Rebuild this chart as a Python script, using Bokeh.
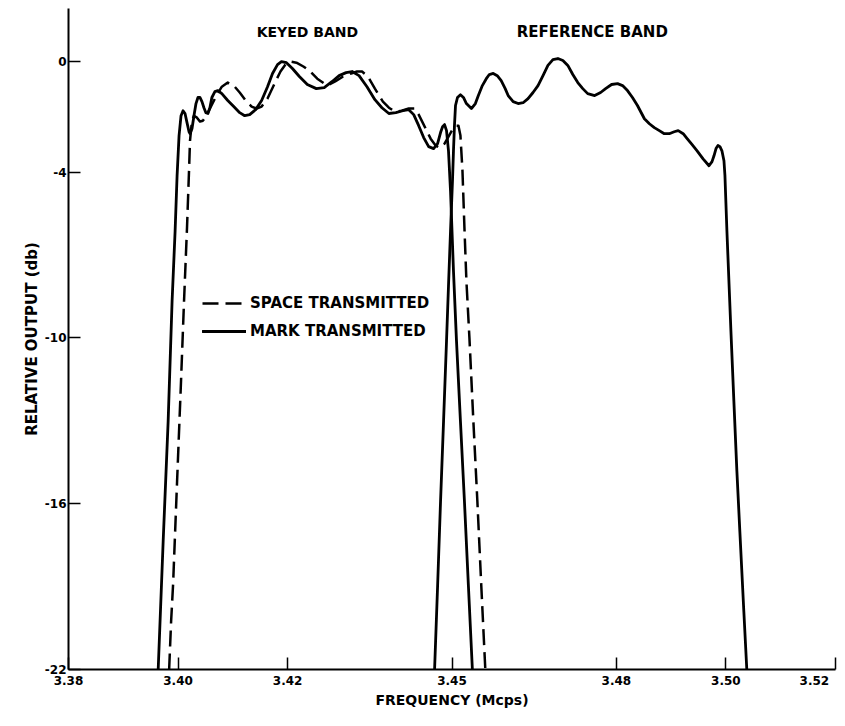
from bokeh.plotting import figure
from bokeh.models import Range1d, FixedTicker, Legend, LegendItem, Label
from bokeh.embed import file_html
from bokeh.resources import INLINE

# ---- data ----
mark_keyed_freq = [3.39637, 3.39728, 3.39819, 3.39891, 3.39946, 3.39982, 3.40018, 3.40054, 3.40091, 3.40127,
                   3.40163, 3.40200, 3.40218, 3.40254, 3.40290, 3.40327, 3.40363, 3.40399, 3.40436, 3.40472,
                   3.40508, 3.40545, 3.40581, 3.40617, 3.40672, 3.40726, 3.40799, 3.40907, 3.41016, 3.41125,
                   3.41216, 3.41307, 3.41416, 3.41525, 3.41633, 3.41724, 3.41815, 3.41887, 3.41978, 3.42087,
                   3.42214, 3.42359, 3.42523, 3.42668, 3.42813, 3.42940, 3.43067, 3.43176, 3.43303, 3.43448,
                   3.43593, 3.43721, 3.43848, 3.43975, 3.44102, 3.44211, 3.44301, 3.44392, 3.44483, 3.44574,
                   3.44664, 3.44737, 3.44791, 3.44828, 3.44864, 3.44900, 3.44936, 3.44973, 3.45027, 3.45082,
                   3.45154, 3.45227, 3.45300, 3.45372]
mark_keyed_db = [-22.0, -17.36, -13.01, -8.66, -6.13, -4.13, -2.68, -1.96, -1.78, -1.88,
                 -2.21, -2.54, -2.61, -2.43, -1.96, -1.52, -1.30, -1.30, -1.45, -1.67,
                 -1.85, -1.88, -1.67, -1.30, -1.09, -1.05, -1.16, -1.41, -1.63, -1.85,
                 -1.96, -1.92, -1.74, -1.41, -0.91, -0.43, -0.11, 0.0, -0.04, -0.25,
                 -0.54, -0.83, -0.98, -0.94, -0.72, -0.51, -0.40, -0.36, -0.51, -0.91,
                 -1.38, -1.67, -1.88, -1.85, -1.78, -1.74, -1.92, -2.32, -2.75, -3.08,
                 -3.15, -2.97, -2.57, -2.36, -2.28, -2.50, -3.23, -4.68, -7.58, -10.11,
                 -13.01, -15.91, -18.99, -22.0]

space_keyed_freq = [3.39837, 3.39873, 3.39909, 3.39982, 3.40054, 3.40109, 3.40163, 3.40200, 3.40218, 3.40254,
                    3.40290, 3.40345, 3.40399, 3.40454, 3.40526, 3.40617, 3.40708, 3.40799, 3.40907, 3.41016,
                    3.41125, 3.41234, 3.41343, 3.41434, 3.41525, 3.41633, 3.41760, 3.41869, 3.41960, 3.42051,
                    3.42160, 3.42287, 3.42396, 3.42541, 3.42722, 3.42868, 3.43013, 3.43158, 3.43267, 3.43358,
                    3.43466, 3.43593, 3.43739, 3.43848, 3.43957, 3.44084, 3.44211, 3.44319, 3.44392, 3.44465,
                    3.44537, 3.44610, 3.44701, 3.44773, 3.44864, 3.44936, 3.45009, 3.45082, 3.45118, 3.45154,
                    3.45191, 3.45227, 3.45263, 3.45318, 3.45390, 3.45463, 3.45535, 3.45608]
space_keyed_db = [-22.0, -20.26, -18.92, -15.19, -11.56, -8.66, -6.02, -3.95, -2.86, -2.14,
                  -1.96, -2.03, -2.17, -2.14, -1.92, -1.56, -1.20, -0.91, -0.76, -0.87,
                  -1.12, -1.41, -1.63, -1.70, -1.63, -1.34, -0.80, -0.36, -0.11, 0.0,
                  -0.04, -0.18, -0.33, -0.62, -0.87, -0.72, -0.54, -0.43, -0.36, -0.36,
                  -0.54, -0.98, -1.45, -1.67, -1.81, -1.78, -1.70, -1.70, -1.92, -2.21,
                  -2.50, -2.79, -3.04, -3.12, -2.97, -2.72, -2.46, -2.32, -2.32, -2.68,
                  -3.95, -6.02, -7.94, -10.00, -13.01, -15.91, -18.99, -22.0]

ref_freq = [3.44682, 3.44737, 3.44791, 3.44846, 3.44900, 3.44936, 3.44973, 3.45009, 3.45027, 3.45045,
            3.45064, 3.45100, 3.45154, 3.45209, 3.45263, 3.45354, 3.45427, 3.45481, 3.45554, 3.45626,
            3.45681, 3.45753, 3.45826, 3.45898, 3.45971, 3.46025, 3.46116, 3.46207, 3.46298, 3.46388,
            3.46479, 3.46570, 3.46661, 3.46751, 3.46842, 3.46933, 3.47024, 3.47114, 3.47205, 3.47296,
            3.47387, 3.47477, 3.47604, 3.47713, 3.47804, 3.47913, 3.48022, 3.48113, 3.48203, 3.48294,
            3.48385, 3.48512, 3.48603, 3.48693, 3.48784, 3.48875, 3.48966, 3.49056, 3.49129, 3.49220,
            3.49292, 3.49383, 3.49474, 3.49583, 3.49691, 3.49746, 3.49782, 3.49819, 3.49855, 3.49891,
            3.49927, 3.49964, 3.49982, 3.50018, 3.50091, 3.50145, 3.50200, 3.50254, 3.50327, 3.50381]
ref_db = [-22.0, -18.99, -15.91, -13.01, -10.11, -8.12, -6.13, -4.31, -3.23, -2.32,
          -1.59, -1.30, -1.20, -1.30, -1.52, -1.70, -1.52, -1.23, -0.87, -0.62,
          -0.47, -0.43, -0.51, -0.69, -0.98, -1.23, -1.45, -1.52, -1.49, -1.34,
          -1.12, -0.87, -0.51, -0.14, 0.07, 0.11, 0.04, -0.14, -0.47, -0.76,
          -0.98, -1.16, -1.23, -1.12, -0.98, -0.83, -0.80, -0.87, -1.05, -1.30,
          -1.59, -2.07, -2.25, -2.39, -2.50, -2.61, -2.61, -2.54, -2.50, -2.61,
          -2.79, -3.01, -3.23, -3.52, -3.77, -3.62, -3.41, -3.15, -3.04, -3.08,
          -3.23, -3.59, -4.13, -6.13, -9.75, -12.29, -14.82, -17.00, -19.90, -22.0]

series_names = ["SPACE TRANSMITTED", "MARK TRANSMITTED"]
band_names = ["KEYED BAND", "REFERENCE BAND"]

x_ticks = [3.38, 3.40, 3.42, 3.45, 3.48, 3.50, 3.52]
x_tick_labels = ["3.38", "3.40", "3.42", "3.45", "3.48", "3.50", "3.52"]
y_ticks = [0, -4, -10, -16, -22]
y_tick_labels = ["0", "-4", "-10", "-16", "-22"]

FONT = "DejaVu Sans"
NBSP = "\u00a0"

p = figure(width=837, height=710,
           x_range=Range1d(3.38, 3.52), y_range=Range1d(-22, 1.92),
           output_backend="svg", toolbar_location=None,
           min_border_left=68, min_border_right=2, min_border_top=8, min_border_bottom=41)

p.xgrid.visible = False
p.ygrid.visible = False
p.outline_line_color = None
p.background_fill_color = "white"
p.border_fill_color = "white"

# the last label sits at the very end of the axis, flush right as in the original
x_overrides = {t: s for t, s in zip(x_ticks, x_tick_labels)}
x_overrides[x_ticks[-1]] = x_tick_labels[-1] + NBSP * 2
p.xaxis.ticker = FixedTicker(ticks=x_ticks)
p.xaxis.major_label_overrides = x_overrides
p.yaxis.ticker = FixedTicker(ticks=y_ticks)
p.yaxis.major_label_overrides = {t: s for t, s in zip(y_ticks, y_tick_labels)}

for ax in (p.xaxis, p.yaxis):
    ax.axis_line_width = 2
    ax.axis_line_color = "black"
    ax.major_tick_in = 12
    ax.major_tick_out = 0
    ax.major_tick_line_width = 1.5
    ax.major_tick_line_color = "black"
    ax.minor_tick_line_color = None
    ax.major_label_text_font = FONT
    ax.major_label_text_font_style = "bold"
    ax.major_label_text_font_size = "12px"
    ax.major_label_text_color = "black"
    ax.axis_label_text_font = FONT
    ax.axis_label_text_font_style = "bold"
    ax.axis_label_text_font_size = "14px"
    ax.axis_label_text_color = "black"

p.xaxis.major_label_standoff = 4
p.xaxis.axis_label = "FREQUENCY (Mcps)"
p.xaxis.axis_label_standoff = 1
p.yaxis.major_label_standoff = 2
p.yaxis.axis_label = "RELATIVE OUTPUT (db)"
p.yaxis.axis_label_standoff = 1
p.yaxis.axis_label_text_font_size = "15px"

r_mark = p.line(mark_keyed_freq, mark_keyed_db, line_color="black", line_width=2.8,
                line_join="round", line_cap="round")
r_space = p.line(space_keyed_freq, space_keyed_db, line_color="black", line_width=2.5,
                 line_dash="16 7", line_join="round")
r_ref = p.line(ref_freq, ref_db, line_color="black", line_width=2.8,
               line_join="round", line_cap="round")

legend = Legend(items=[LegendItem(label=series_names[0], renderers=[r_space]),
                       LegendItem(label=series_names[1], renderers=[r_mark])],
                location=(134, 328), orientation="vertical",
                background_fill_alpha=0, border_line_alpha=0,
                padding=0, margin=0, spacing=8,
                glyph_width=44, glyph_height=20, label_height=20, label_standoff=4,
                label_text_font=FONT, label_text_font_style="bold",
                label_text_font_size="15px", label_text_color="black")
p.add_layout(legend)

p.add_layout(Label(x=3.4236, y=1.085, text=band_names[0], text_align="center",
                   text_baseline="middle", text_font=FONT, text_font_style="bold",
                   text_font_size="14px", text_color="black"))
p.add_layout(Label(x=3.4756, y=1.085, text=band_names[1], text_align="center",
                   text_baseline="middle", text_font=FONT, text_font_style="bold",
                   text_font_size="15px", text_color="black"))

open("out.html", "w").write(file_html(p, INLINE))
